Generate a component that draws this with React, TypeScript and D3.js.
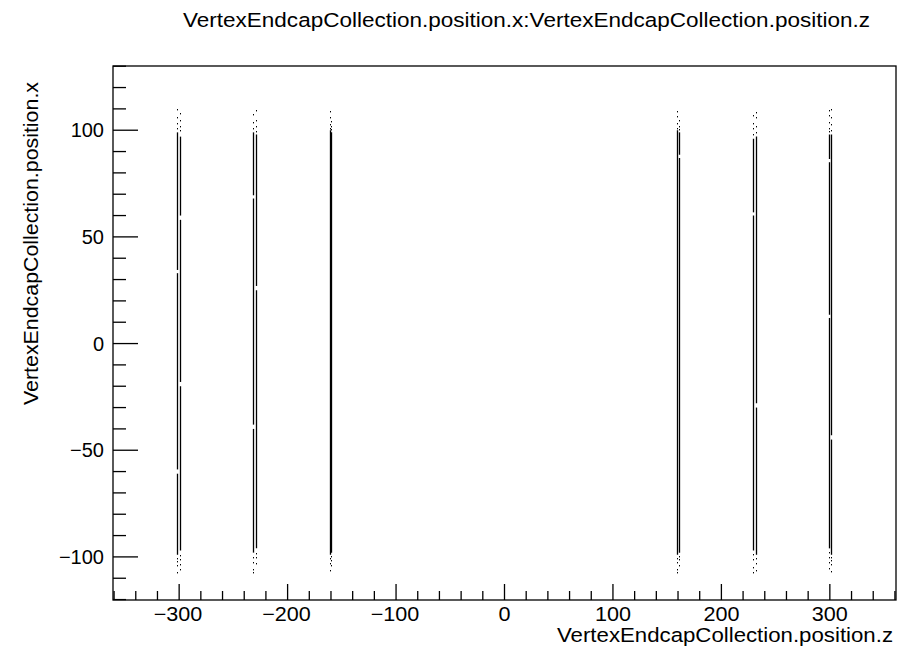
import React from "react";
import * as d3 from "d3";

// Scatter of endcap vertex hits: position.x versus position.z.
const title = "VertexEndcapCollection.position.x:VertexEndcapCollection.position.z";
const xTitle = "VertexEndcapCollection.position.z";
const yTitle = "VertexEndcapCollection.position.x";

const zDomain: [number, number] = [-361, 361];
const xDomain: [number, number] = [-120.2, 130.1];

const zMajorTicks = [-300, -200, -100, 0, 100, 200, 300];
const zMinorTicks = [-360, -340, -320, -280, -260, -240, -220, -180, -160, -140, -120, -80, -60, -40, -20, 20, 40, 60, 80, 120, 140, 160, 180, 220, 240, 260, 280, 320, 340, 360];
const xMajorTicks = [-100, -50, 0, 50, 100];
const xMinorTicks = [-120, -110, -90, -80, -70, -60, -40, -30, -20, -10, 10, 20, 30, 40, 60, 70, 80, 90, 110, 120, 130];

// Each disk layer is a column of hits at a fixed z; dense hits form solid runs in x.
const columnZ = [-301.6, -299.2, -232.0, -229.6, -161.2, -159.8, 159.4, 160.8, 229.6, 231.8, 298.8, 301.2];
const columnRuns: [number, number][][] = [
  [[-99, -61], [-59, 33], [34.5, 99]],
  [[-97, -20], [-18, 58], [60, 97]],
  [[-98, -40], [-38, 68], [69.5, 99]],
  [[-96, 25], [27, 98]],
  [[-99, 100]],
  [[-98, 99]],
  [[-99, 100]],
  [[-98, 87], [88.5, 99]],
  [[-97, 60], [61.5, 96]],
  [[-99, -30], [-28, 97]],
  [[-96, 12], [13.5, 85], [86.5, 98]],
  [[-99, -45], [-43, 98]],
];
// Sparse hits beyond the solid runs, near the disk edges.
const columnDots: number[][] = [
  [101, 103.5, 106, 110, -100.5, -102, -104, -107],
  [100, 102, 105, 108, -99, -101, -103.5, -105.5],
  [101, 104, 107.5, -100, -102.5, -105.5, -107],
  [99.5, 102, 105, 109.5, -98, -100, -103],
  [101, 103, 106, 109, -100.5, -103, -106],
  [100.5, 102, 104.5, -99.5, -101.5, -104],
  [101, 103.5, 106.5, 109, -100.5, -102.5, -105.5, -107],
  [100.5, 102, 105, -99.5, -101, -104],
  [98, 101, 103.5, 107, -98.5, -101, -104.5, -107],
  [99, 102, 106, 108.5, -100.5, -103, -106],
  [99.5, 101, 104, 107, 109.5, -97.5, -100, -102.5, -105],
  [100, 103, 106, 110, -100, -101.5, -103.5, -106.5],
];

const W = 904;
const H = 649;
const frame = { left: 113, right: 896, top: 66, bottom: 600 };
const font = "'Liberation Sans', Arial, Helvetica, sans-serif";
const labelSize = 20.5;
const tickSize = 20;

export default function App() {
  const z = d3.scaleLinear().domain(zDomain).range([frame.left, frame.right]);
  const x = d3.scaleLinear().domain(xDomain).range([frame.bottom, frame.top]);
  const fmt = (v: number) => (v < 0 ? "\u2212" + Math.abs(v) : String(v));

  const runs = columnZ.flatMap((cz, i) =>
    columnRuns[i].map(([a, b], j) => (
      <line key={`r${i}-${j}`} x1={Math.round(z(cz)) + 0.5} x2={Math.round(z(cz)) + 0.5}
        y1={x(b)} y2={x(a)} stroke="#000" strokeWidth={1.3} />
    ))
  );
  const dots = columnZ.flatMap((cz, i) =>
    columnDots[i].map((v, j) => (
      <rect key={`d${i}-${j}`} x={Math.round(z(cz))} y={Math.round(x(v))} width={1} height={1.4} fill="#000" />
    ))
  );

  return (
    <svg width={W} height={H} style={{ display: "block", position: "absolute", left: 0, top: 0, background: "#fff" }}>
      <rect x={0} y={0} width={W} height={H} fill="#fff" />
      <text x={526.5} y={27} textAnchor="middle" fontFamily={font} fontSize={labelSize}
        textLength={687} lengthAdjust="spacingAndGlyphs" fill="#000">{title}</text>
      <g>{runs}{dots}</g>
      <rect x={frame.left} y={frame.top} width={frame.right - frame.left} height={frame.bottom - frame.top}
        fill="none" stroke="#000" strokeWidth={1.3} />
      {zMajorTicks.map((t) => (
        <g key={`zm${t}`}>
          <line x1={z(t)} x2={z(t)} y1={frame.bottom} y2={frame.bottom - 16} stroke="#000" strokeWidth={1.3} />
          <text x={z(t) - (t < 0 ? 1 : 0)} y={621} textAnchor="middle" fontFamily={font} fontSize={tickSize} fill="#000"
            transform={`translate(${z(t)},0) scale(1.08,1) translate(${-z(t)},0)`}>{fmt(t)}</text>
        </g>
      ))}
      {zMinorTicks.map((t) => (
        <line key={`zn${t}`} x1={z(t)} x2={z(t)} y1={frame.bottom} y2={frame.bottom - 9} stroke="#000" strokeWidth={1.3} />
      ))}
      {xMajorTicks.map((t) => (
        <g key={`xm${t}`}>
          <line x1={frame.left} x2={frame.left + 25} y1={x(t)} y2={x(t)} stroke="#000" strokeWidth={1.3} />
          <text x={104} y={x(t) + 7} textAnchor="end" fontFamily={font} fontSize={tickSize} fill="#000">{fmt(t)}</text>
        </g>
      ))}
      {xMinorTicks.map((t) => (
        <line key={`xn${t}`} x1={frame.left} x2={frame.left + 13} y1={x(t)} y2={x(t)} stroke="#000" strokeWidth={1.3} />
      ))}
      <text x={557} y={642} fontFamily={font} fontSize={labelSize}
        textLength={336} lengthAdjust="spacingAndGlyphs" fill="#000">{xTitle}</text>
      <text transform="translate(38,405) rotate(-90)" fontFamily={font} fontSize={labelSize}
        textLength={323} lengthAdjust="spacingAndGlyphs" fill="#000">{yTitle}</text>
    </svg>
  );
}
